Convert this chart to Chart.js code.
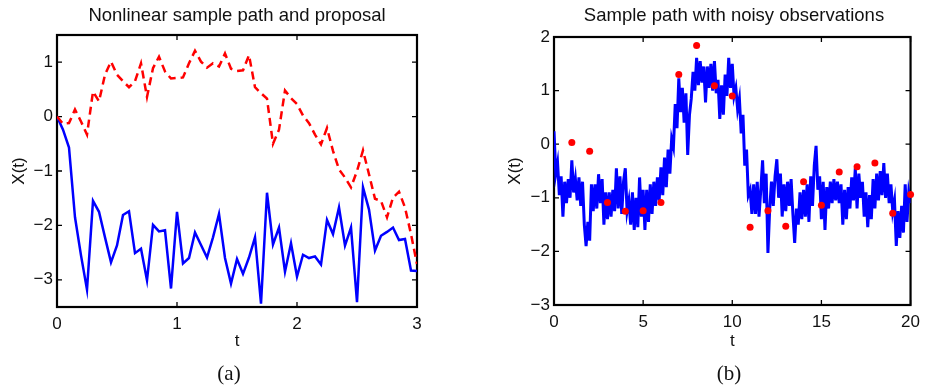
<!DOCTYPE html>
<html>
<head>
<meta charset="utf-8">
<script src="https://cdn.jsdelivr.net/npm/chart.js@4/dist/chart.umd.min.js"></script>
<style>
  html, body { margin:0; padding:0; background:#fff; }
  body { width:927px; height:391px; position:relative; overflow:hidden; }
  canvas { position:absolute; top:0; }
  .title { position:absolute; top:6px; font-family:"Liberation Sans", Arial, sans-serif; font-size:18.5px; line-height:18px; color:#111; white-space:nowrap; transform:translateX(-50%); }
  .sub { position:absolute; top:363px; font-family:"Liberation Serif", "Times New Roman", serif; font-size:21px; line-height:21px; color:#111; transform:translateX(-50%); }
</style>
</head>
<body>
<canvas id="c1" width="463" height="391" style="left:0px"></canvas>
<canvas id="c2" width="464" height="391" style="left:463px"></canvas>
<div class="title" style="left:237px">Nonlinear sample path and proposal</div>
<div class="title" style="left:734px">Sample path with noisy observations</div>
<div class="sub" style="left:229px">(a)</div>
<div class="sub" style="left:729px">(b)</div>
<script>
// ---------- Data: panel (a) ----------
const stepA = 0.05; // time grid of panel (a)
const pathA = [ // blue solid: nonlinear sample path
  0, -0.24, -0.57, -1.85, -2.55, -3.18, -1.55, -1.75, -2.22, -2.68,
  -2.37, -1.81, -1.74, -2.51, -2.43, -3.01, -1.99, -2.11, -2.09, -3.16,
  -1.75, -2.70, -2.60, -2.13, -2.36, -2.59, -2.22, -1.79, -2.60, -3.07,
  -2.62, -2.89, -2.59, -2.22, -3.44, -1.40, -2.35, -2.04, -2.85, -2.33,
  -2.94, -2.54, -2.60, -2.57, -2.72, -1.90, -2.16, -1.67, -2.37, -2.04,
  -3.41, -1.30, -1.71, -2.46, -2.19, -2.12, -2.04, -2.27, -2.25, -2.83,
  -2.84
];
const proposalA = [ // red dashed: proposal
  0, -0.13, -0.12, 0.13, -0.09, -0.33, 0.46, 0.28, 0.77, 1.01,
  0.77, 0.65, 0.54, 0.65, 0.98, 0.36, 0.89, 1.10, 0.83, 0.70,
  0.71, 0.72, 0.98, 1.21, 1.01, 0.90, 0.98, 0.92, 1.16, 0.88,
  0.84, 0.85, 1.13, 0.54, 0.43, 0.33, -0.50, -0.24, 0.48, 0.34,
  0.23, 0.02, -0.12, -0.33, -0.51, -0.21, -0.63, -0.97, -1.12, -1.30,
  -1.00, -0.62, -1.06, -1.51, -1.55, -1.85, -1.49, -1.38, -1.67, -2.16,
  -2.71
];
const xTicksA = [0, 1, 2, 3];
const yTicksA = [-3, -2, -1, 0, 1];

// ---------- Data: panel (b) ----------
const stepB = 0.1; // time grid of panel (b)
const pathB = [
  0.24, -0.55, -0.35, -0.95, -0.60, -1.35, -0.70, -1.10, -0.65, -1.00,
  -0.30, -0.90, -0.65, -1.05, -0.62, -1.15, -0.70, -1.50, -1.90, -1.45,
  -1.80, -0.75, -1.25, -0.75, -1.20, -0.56, -1.10, -0.65, -1.50, -0.90,
  -1.40, -0.90, -1.35, -0.85, -1.25, -0.45, -1.20, -0.60, -1.30, -0.70,
  -0.45, -1.25, -1.05, -1.50, -0.90, -1.60, -1.00, -1.55, -0.62, -1.35,
  -0.85, -1.60, -0.85, -1.45, -0.75, -1.30, -0.70, -1.15, -0.62, -1.05,
  -0.43, -0.95, -0.25, -0.80, -0.10, -0.55, 0.10, -0.05, 0.75, 0.30,
  1.23, 0.60, 1.05, 0.40, 0.95, -0.20, 0.55, 0.85, 1.35, 1.00,
  1.61, 1.10, 1.55, 1.15, 1.45, 0.78, 1.45, 1.05, 1.50, 1.00,
  1.55, 0.95, 1.20, 0.47, 1.10, 0.55, 1.30, 0.90, 1.61, 1.05,
  1.50, 0.90, 1.05, 0.65, 0.85, 0.20, 0.55, -0.40, -0.10, -0.95,
  -0.85, -1.30, -0.75, -1.30, -0.70, -1.35, -0.85, -0.30, -1.10, -0.55,
  -2.03, -1.20, -0.70, -1.15, -0.60, -0.28, -1.00, -0.55, -1.35, -0.75,
  -1.25, -0.70, -1.15, -0.65, -1.30, -1.84, -1.20, -1.50, -0.90, -1.40,
  -0.85, -1.35, -0.75, -1.45, -0.60, -1.15, -0.40, -0.03, -0.85, -0.60,
  -1.40, -0.70, -1.60, -0.80, -1.20, -0.70, -1.10, -0.65, -1.05, -0.70,
  -1.10, -0.75, -1.50, -0.85, -1.40, -0.80, -1.20, -0.62, -1.05, -0.45,
  -1.20, -0.55, -1.00, -0.70, -1.35, -0.90, -1.55, -0.95, -1.40, -0.65,
  -1.20, -0.55, -1.05, -0.50, -0.95, -0.35, -1.00, -0.55, -1.10, -0.75,
  -1.25, -1.05, -1.90, -1.25, -1.75, -1.15, -1.65, -0.75, -1.45, -0.90,
  -1.10
];
const obsT = [1, 2, 3, 4, 5, 6, 7, 8, 9, 10, 11, 12, 13, 14, 15, 16, 17, 18, 19, 20];
const obsB = [0.03, -0.13, -1.09, -1.25, -1.24, -1.09, 1.30, 1.84, 1.09, 0.90,
              -1.55, -1.24, -1.53, -0.70, -1.14, -0.52, -0.42, -0.35, -1.29, -0.94];
const xTicksB = [0, 5, 10, 15, 20];
const yTicksB = [-3, -2, -1, 0, 1, 2];

// ---------- Helpers ----------
const FONT = '"Liberation Sans", Arial, sans-serif';
Chart.defaults.font.family = FONT;
Chart.defaults.color = '#111';

const toXY = (vals, step) => vals.map((v, i) => ({ x: +(i * step).toFixed(4), y: v }));
const minus = v => (v < 0 ? '\u2212' + Math.abs(v) : String(v));

const framePlugin = {
  id: 'frame',
  beforeDatasetsDraw(chart) {
    const { ctx, chartArea: { left, right, top, bottom }, scales: { x, y } } = chart;
    ctx.save();
    ctx.strokeStyle = '#000';
    ctx.lineWidth = 1.3;
    const L = 5;
    ctx.beginPath();
    x.ticks.forEach(t => {
      const px = x.getPixelForValue(t.value);
      ctx.moveTo(px, bottom); ctx.lineTo(px, bottom - L);
      ctx.moveTo(px, top); ctx.lineTo(px, top + L);
    });
    y.ticks.forEach(t => {
      const py = y.getPixelForValue(t.value);
      ctx.moveTo(left, py); ctx.lineTo(left + L, py);
      ctx.moveTo(right, py); ctx.lineTo(right - L, py);
    });
    ctx.stroke();
    ctx.lineWidth = 2.2;
    ctx.strokeRect(left, top, right - left, bottom - top);
    ctx.restore();
  }
};

function axes(cfg) {
  return {
    x: {
      type: 'linear', min: cfg.xmin, max: cfg.xmax,
      afterBuildTicks: s => { s.ticks = cfg.xTicks.map(v => ({ value: v })); },
      afterFit: s => { s.height = cfg.xH; },
      grid: { display: false, drawTicks: false },
      border: { display: false },
      ticks: { font: { size: 17 }, color: '#111', padding: 7, maxRotation: 0, callback: v => minus(v) },
      title: { display: true, text: 't', font: { size: 17 }, color: '#111', padding: { top: 0, bottom: cfg.tPad } }
    },
    y: {
      type: 'linear', min: cfg.ymin, max: cfg.ymax,
      afterBuildTicks: s => { s.ticks = cfg.yTicks.map(v => ({ value: v })); },
      afterFit: s => { s.width = cfg.yW; },
      grid: { display: false, drawTicks: false },
      border: { display: false },
      ticks: { font: { size: 17 }, color: '#111', padding: 4, callback: v => minus(v) },
      title: { display: true, text: 'X(t)', font: { size: 17 }, color: '#111', padding: { top: cfg.yPad, bottom: 0 } }
    }
  };
}

const common = {
  responsive: false, animation: false, devicePixelRatio: 1,
  plugins: { legend: { display: false }, tooltip: { enabled: false }, title: { display: false } },
  elements: { line: { tension: 0 }, point: { radius: 0 } }
};

// ---------- Panel (a) ----------
new Chart(document.getElementById('c1'), {
  type: 'line',
  data: {
    datasets: [
      { data: toXY(proposalA, stepA), borderColor: '#ff0000', borderWidth: 2.5, borderDash: [8, 5], pointRadius: 0, fill: false },
      { data: toXY(pathA, stepA), borderColor: '#0000ff', borderWidth: 2.5, pointRadius: 0, fill: false }
    ]
  },
  options: Object.assign({}, common, {
    layout: { padding: { left: 0, right: 46, top: 35, bottom: 0 } },
    scales: axes({ xmin: 0, xmax: 3, ymin: -3.5, ymax: 1.5, xTicks: xTicksA, yTicks: yTicksA, xH: 84, yW: 57, tPad: 39, yPad: 9 })
  }),
  plugins: [framePlugin]
});

// ---------- Panel (b) ----------
new Chart(document.getElementById('c2'), {
  type: 'line',
  data: {
    datasets: [
      { type: 'scatter', data: obsT.map((t, i) => ({ x: t, y: obsB[i] })), showLine: false,
        pointRadius: 3.5, pointBackgroundColor: '#ff0000', pointBorderWidth: 0, borderColor: '#ff0000', clip: false },
      { data: toXY(pathB, stepB), borderColor: '#0000ff', borderWidth: 3, pointRadius: 0, fill: false }
    ]
  },
  options: Object.assign({}, common, {
    layout: { padding: { left: 0, right: 12, top: 37, bottom: 0 } },
    scales: axes({ xmin: 0, xmax: 20, ymin: -3, ymax: 2, xTicks: xTicksB, yTicks: yTicksB, xH: 86, yW: 91, tPad: 39, yPad: 42 })
  }),
  plugins: [framePlugin]
});
</script>
</body>
</html>
